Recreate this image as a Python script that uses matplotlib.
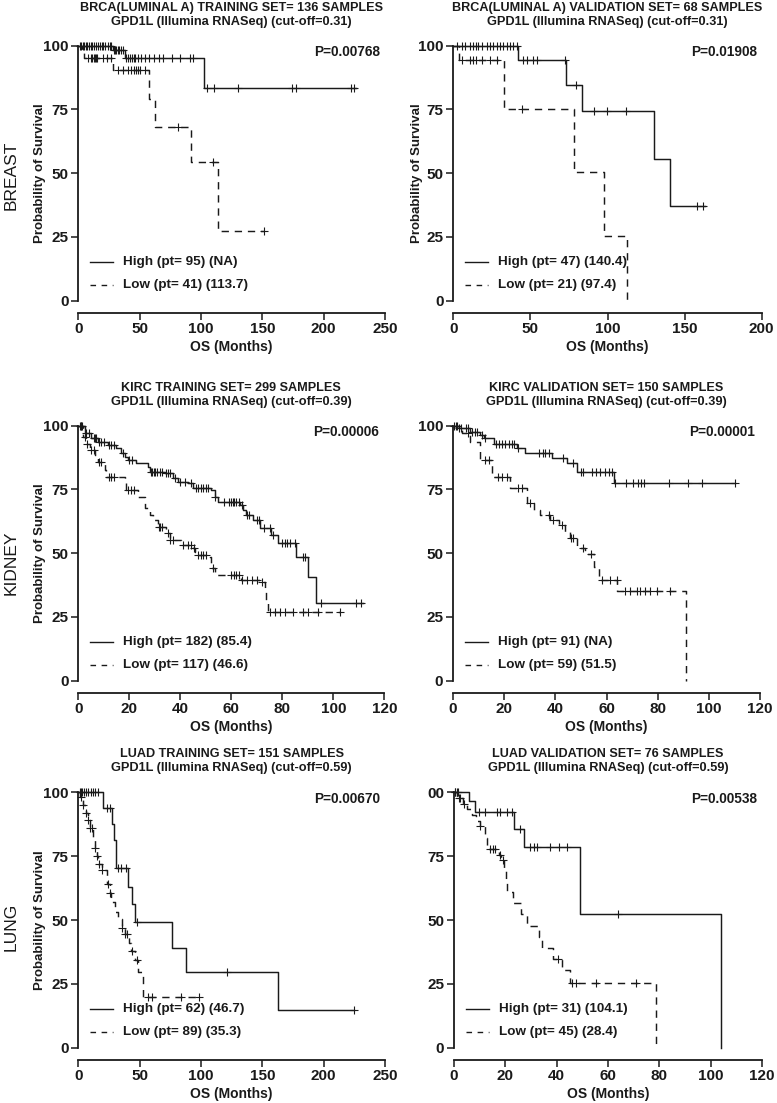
import matplotlib
matplotlib.use('Agg')
import matplotlib.pyplot as plt
import numpy as np

plt.rcParams['font.family'] = ['Liberation Sans', 'DejaVu Sans']

W, H = 777, 1103

# ---- BRCA training ----
brca_tr_high_t = [28.0, 37.8, 102.4]
brca_tr_high_s = [98.3, 95.2, 83.3]
brca_tr_high_end = 226
brca_tr_high_cens = [1, 2, 3.5, 4.5, 6, 7, 8.5, 10, 11.5, 13, 14.5, 16, 17.5, 19, 20.5, 22, 24, 25.5, 27,
                     29, 30, 31, 32, 33.5, 35, 36.5, 39, 40.5, 42, 43.5, 45, 46.5, 48.5, 51.5, 54, 58, 62,
                     66, 69, 76, 82.5, 91, 93.5, 104.5, 111, 130, 174, 177.5, 222, 225]
brca_tr_low_t = [3, 5, 28, 58, 62.5, 92, 114]
brca_tr_low_s = [97.6, 95.1, 90.3, 79.2, 68.0, 54.3, 27.2]
brca_tr_low_end = 151
brca_tr_low_cens = [8, 10.5, 11.5, 12.5, 13.5, 14.5, 15.5, 20, 23, 27, 32.5, 36.5, 40.5, 43, 45.5, 47,
                    48.5, 50, 54, 81.5, 110, 151]

# ---- BRCA validation ----
brca_va_high_t = [42.2, 72.9, 83.2, 130.4, 140.8]
brca_va_high_s = [94.2, 84.7, 74.2, 55.6, 37.1]
brca_va_high_end = 163
brca_va_high_cens = [2.2, 5.4, 7.6, 10.8, 13, 14.7, 16.2, 18.4, 21.6, 23.8, 25.9, 28.1, 30.3, 32.4, 34.6,
                     36.8, 38.9, 41, 45.4, 47.6, 51.5, 54, 72.4, 79.4, 91.5, 99.5, 111.8, 157.8, 161.7]
brca_va_low_t = [4.0, 33.1, 78.5, 98.0, 112.9]
brca_va_low_s = [94.2, 75.3, 50.3, 25.2, 0]
brca_va_low_end = 112.9
brca_va_low_cens = [5.4, 10.8, 12.5, 14.7, 18.4, 23.8, 28.1, 44.3]

# ---- KIRC training ----
kirc_tr_high_t = [2.5, 5.1, 7.7, 11.6, 14.9, 16.9, 18.2, 19.5, 22.7, 27.3, 28.0, 33.9, 37.1, 39.1, 43.0,
                  45.0, 52.2, 53.5, 54.8, 63.3, 64.6, 65.9, 68.5, 71.1, 75.7, 78.3, 85.5, 90.0, 93.3]
kirc_tr_high_s = [97.0, 95.0, 93.7, 92.4, 91.1, 89.2, 87.8, 86.5, 85.2, 83.9, 82.0, 81.3, 79.3, 78.0, 77.4,
                  75.4, 74.8, 72.2, 70.2, 68.9, 66.9, 65.0, 63.0, 59.7, 57.1, 53.9, 48.6, 40.8, 30.3]
kirc_tr_high_end = 111.6
kirc_tr_high_cens = [0.5, 1, 1.5, 3, 4, 6, 6.5, 7, 8, 9, 10, 12, 13, 14, 17.5, 20, 21, 28.5, 29, 29.5, 30,
                     31, 32, 33, 34.5, 35, 36, 38, 40, 42, 44, 46, 47, 48, 49, 50, 51, 53.5, 57, 59, 60,
                     60.5, 61, 62, 63, 64, 66, 67, 70, 71, 73, 75, 76.5, 80, 81, 82, 83, 85, 88, 89, 95,
                     109, 111]
kirc_tr_low_t = [1.8, 3.1, 4.4, 6.4, 7.7, 10.3, 11.0, 18.2, 18.8, 23.4, 26.0, 28.0, 29.3, 31.2, 34.5, 35.8,
                 40.4, 45.0, 45.8, 46.6, 51.5, 52.2, 53.5, 63.9, 71.8, 73.1, 73.7, 74.4]
kirc_tr_low_s = [95.7, 93.0, 90.5, 88.5, 85.9, 82.6, 80.0, 77.4, 74.8, 72.2, 67.6, 65.0, 63.0, 60.4, 57.8,
                 55.2, 53.2, 51.9, 50.6, 49.3, 48.6, 44.1, 41.4, 39.5, 38.8, 35.6, 31.0, 27.1]
kirc_tr_low_end = 102.5
kirc_tr_low_cens = [1, 2.5, 3.5, 5, 6, 8, 9, 12, 13, 14, 19.5, 20.5, 22, 31.5, 32, 33, 35, 36, 37, 41, 43,
                    44, 45.5, 47, 48, 49, 50, 53, 60, 61, 62, 63, 64, 66, 68, 70, 72, 75, 77, 79, 81, 84,
                    88, 90, 94, 102.5]

# ---- KIRC validation ----
kirc_va_high_t = [2.2, 6.8, 10.7, 12.0, 15.9, 25.0, 28.3, 38.7, 44.6, 48.5, 62.8]
kirc_va_high_s = [99.0, 97.6, 96.3, 95.0, 93.0, 91.1, 89.2, 87.2, 85.2, 82.0, 77.4]
kirc_va_high_end = 110.4
kirc_va_high_cens = [0.5, 1, 1.5, 2.5, 3, 5, 6, 7.5, 8.5, 9.5, 11.5, 12.5, 17, 18, 19, 20.5, 22, 23, 24,
                     25.5, 33.5, 35, 36, 37.5, 43, 47, 50, 51, 54.5, 56, 57.5, 59.5, 61, 62, 63.5, 67.5,
                     70.5, 72.5, 73.5, 74.5, 84.5, 92, 97.5, 110.4]
kirc_va_low_t = [3.5, 6.5, 10.7, 15.2, 22.4, 28.9, 31.5, 34.0, 38.0, 41.3, 43.9, 45.9, 48.5, 51.5, 55.0,
                 56.9, 64.1, 90.9]
kirc_va_low_s = [97.0, 93.5, 86.5, 80.0, 75.4, 69.5, 66.9, 65.0, 63.0, 61.0, 58.4, 55.8, 52.0, 49.5, 44.5,
                 39.5, 35.3, 0]
kirc_va_low_end = 90.9
kirc_va_low_cens = [6, 12.5, 14, 17.5, 19, 21, 25.5, 27, 30, 37.5, 39, 42.5, 46, 47, 51, 54, 58.3, 61.5,
                    64, 67.4, 69.3, 71.9, 73.2, 75, 77.1, 79.7, 85]

# ---- LUAD training ----
luad_tr_high_t = [20.4, 27.7, 29.0, 30.5, 40.5, 44.0, 46.5, 76.0, 88.0, 163.0]
luad_tr_high_s = [93.8, 87.5, 81.5, 70.2, 63.0, 56.2, 49.2, 39.2, 29.5, 14.7]
luad_tr_high_end = 225
luad_tr_high_cens = [1, 2, 3, 4.5, 6, 8, 10, 12, 14, 16, 23, 25.5, 32.5, 35, 39, 48, 121, 225]
luad_tr_low_t = [1.5, 3.5, 6, 8, 9.5, 12, 13.5, 15, 16, 19, 23, 25.5, 27, 30, 32, 35.3, 38, 41, 43, 46,
                 49, 53]
luad_tr_low_s = [98, 95, 92, 89, 86, 82, 78, 75, 72, 69.5, 64, 60.5, 57, 53, 50.5, 47, 44.5, 41, 38, 34.5,
                 29.7, 19.8]
luad_tr_low_end = 98
luad_tr_low_cens = [2.5, 3.5, 6.5, 8, 9.5, 11.5, 13.5, 15, 16.5, 19, 24.5, 25.5, 35.5, 38, 39.5, 43.5,
                    47.5, 57, 60, 84, 98]

# ---- LUAD validation ----
luad_va_high_t = [6.0, 8.0, 23.5, 27.1, 49.2, 104.1]
luad_va_high_s = [96.5, 92.3, 85.8, 78.6, 52.3, 0]
luad_va_high_end = 104.1
luad_va_high_cens = [0.5, 1, 1.5, 9.6, 12.2, 16.8, 18, 20.6, 22.6, 25.8, 29.7, 31, 32.3, 37.5, 40.8, 44, 64]
luad_va_low_t = [1, 3.5, 5, 7, 8.5, 10, 12, 13, 17.5, 18.5, 19.5, 20.3, 20.8, 23, 26, 28.4, 33.0, 34.1,
                 38.6, 41.9, 45.1, 78.6]
luad_va_low_s = [97.8, 95.6, 93.3, 91.1, 88.9, 86.7, 82.2, 77.8, 75.5, 73.3, 69.0, 65.0, 61.0, 56.6, 52.2,
                 47.8, 43.5, 39.1, 34.8, 30.4, 25.2, 0]
luad_va_low_end = 78.6
luad_va_low_cens = [0.5, 2, 2.5, 4, 10.3, 14, 15, 16, 18, 19, 40.6, 45.8, 47.7, 55.5, 71]

titles = [
    'BRCA(LUMINAL A) TRAINING SET= 136 SAMPLES', 'BRCA(LUMINAL A) VALIDATION SET= 68 SAMPLES',
    'KIRC TRAINING SET= 299 SAMPLES', 'KIRC VALIDATION SET= 150 SAMPLES',
    'LUAD TRAINING SET= 151 SAMPLES', 'LUAD VALIDATION SET= 76 SAMPLES',
]
subtitles = ['GPD1L (Illumina RNASeq) (cut-off=0.31)'] * 2 + \
            ['GPD1L (Illumina RNASeq) (cut-off=0.39)'] * 2 + \
            ['GPD1L (Illumina RNASeq) (cut-off=0.59)'] * 2
pvalues = ['P=0.00768', 'P=0.01908', 'P=0.00006', 'P=0.00001', 'P=0.00670', 'P=0.00538']
high_labels = ['High (pt= 95) (NA)', 'High (pt= 47) (140.4)', 'High (pt= 182) (85.4)',
               'High (pt= 91) (NA)', 'High (pt= 62) (46.7)', 'High (pt= 31) (104.1)']
low_labels = ['Low (pt= 41) (113.7)', 'Low (pt= 21) (97.4)', 'Low (pt= 117) (46.6)',
              'Low (pt= 59) (51.5)', 'Low (pt= 89) (35.3)', 'Low (pt= 45) (28.4)']
xmax = [250, 200, 120, 120, 250, 120]
xstep = [50, 50, 20, 20, 50, 20]
row_labels = ['BREAST', 'KIDNEY', 'LUNG']

curves = [
    (brca_tr_high_t, brca_tr_high_s, brca_tr_high_end, brca_tr_high_cens,
     brca_tr_low_t, brca_tr_low_s, brca_tr_low_end, brca_tr_low_cens),
    (brca_va_high_t, brca_va_high_s, brca_va_high_end, brca_va_high_cens,
     brca_va_low_t, brca_va_low_s, brca_va_low_end, brca_va_low_cens),
    (kirc_tr_high_t, kirc_tr_high_s, kirc_tr_high_end, kirc_tr_high_cens,
     kirc_tr_low_t, kirc_tr_low_s, kirc_tr_low_end, kirc_tr_low_cens),
    (kirc_va_high_t, kirc_va_high_s, kirc_va_high_end, kirc_va_high_cens,
     kirc_va_low_t, kirc_va_low_s, kirc_va_low_end, kirc_va_low_cens),
    (luad_tr_high_t, luad_tr_high_s, luad_tr_high_end, luad_tr_high_cens,
     luad_tr_low_t, luad_tr_low_s, luad_tr_low_end, luad_tr_low_cens),
    (luad_va_high_t, luad_va_high_s, luad_va_high_end, luad_va_high_cens,
     luad_va_low_t, luad_va_low_s, luad_va_low_end, luad_va_low_cens),
]

# pixel boxes (left, top, right, bottom) of the 0..100 / 0..xmax data area
boxes = [
    (78.3, 45.7, 385.0, 300.7), (453.3, 45.7, 761.7, 300.7),
    (78.3, 425.7, 384.3, 680.7), (453.0, 425.7, 760.0, 680.7),
    (78.3, 792.3, 385.0, 1047.7), (454.0, 792.3, 762.0, 1047.7),
]
ylabel_x = [40, 417, 40, None, 40, None]
row_y = [175, 563, 927]

INK = '#1a1a1a'
DASH = (0, (5, 4))

fig = plt.figure(figsize=(W / 100, H / 100), dpi=100)


def step_curve(ax, t, s, end, cens, ls):
    xs = [0] + list(t) + [end]
    ys = [100] + list(s) + [s[-1]]
    ax.step(xs, ys, where='post', color=INK, lw=1.05, linestyle=ls, clip_on=False)
    tt = np.array(t)
    ss = np.array([100] + list(s))
    cy = ss[np.searchsorted(tt, cens, side='right')]
    ax.plot(cens, cy, '+', color=INK, ms=6, mew=0.8, clip_on=False)


for i in range(6):
    l, t, r, b = boxes[i]
    ax = fig.add_axes([l / W, 1 - b / H, (r - l) / W, (b - t) / H])
    ht, hs, he, hc, lt, ls_, le, lc = curves[i]
    step_curve(ax, ht, hs, he, hc, '-')
    step_curve(ax, lt, ls_, le, lc, DASH)

    ax.set_xlim(0, xmax[i])
    ax.set_ylim(0, 100)
    ax.spines['top'].set_visible(False)
    ax.spines['right'].set_visible(False)
    ax.spines['bottom'].set_position(('outward', 8.6))
    for sp in ('left', 'bottom'):
        ax.spines[sp].set_linewidth(1.3)
        ax.spines[sp].set_color(INK)
    ax.set_xticks(np.arange(0, xmax[i] + 1, xstep[i]))
    ax.set_yticks([0, 25, 50, 75, 100])
    if i == 5:
        ax.set_yticklabels(['0', '25', '50', '75', '00'])
    ax.tick_params(direction='out', length=5, width=1.1, color=INK, labelsize=11, pad=2)
    for lab in ax.get_xticklabels() + ax.get_yticklabels():
        lab.set_fontweight('bold')
        lab.set_color(INK)

    w = r - l
    h = b - t
    cx = (l + r) / 2 / W
    fig.text(cx, 1 - (t - 38) / H, titles[i], ha='center', va='center', fontsize=9.1,
             fontweight='bold', color=INK)
    fig.text(cx, 1 - (t - 24) / H, subtitles[i], ha='center', va='center', fontsize=9.2,
             fontweight='bold', color=INK)
    fig.text(cx, 1 - (b + 46.5) / H, 'OS (Months)', ha='center', va='center', fontsize=10,
             fontweight='bold', color=INK)
    if ylabel_x[i] is not None:
        fig.text(ylabel_x[i] / W, 1 - (t + b) / 2 / H, 'Probability of Survival', rotation=90,
                 ha='center', va='center', fontsize=9.5, fontweight='bold', color=INK)
    ax.text((r - 5 - l) / w, 1 - 6.5 / h, pvalues[i], transform=ax.transAxes, ha='right', va='center',
            fontsize=9.8, fontweight='bold', color=INK)

    # legend
    lx0 = (l + 12) / W
    lx1 = (l + 35) / W
    tx = (l + 45) / W
    yh = 1 - (b - 38.5) / H
    yl = 1 - (b - 15.5) / H
    fig.add_artist(plt.Line2D([lx0, lx1], [yh, yh], color=INK, lw=1.0))
    fig.add_artist(plt.Line2D([lx0, lx1], [yl, yl], color=INK, lw=1.0, linestyle=(0, (4, 4))))
    fig.text(tx, yh, high_labels[i], ha='left', va='center', fontsize=9.7, fontweight='bold', color=INK)
    fig.text(tx, yl, low_labels[i], ha='left', va='center', fontsize=9.7, fontweight='bold', color=INK)

for k in range(3):
    fig.text(11 / W, 1 - row_y[k] / H, row_labels[k], rotation=90, ha='center', va='center',
             fontsize=12.5, color=INK)

fig.savefig('out.png', dpi=100)
